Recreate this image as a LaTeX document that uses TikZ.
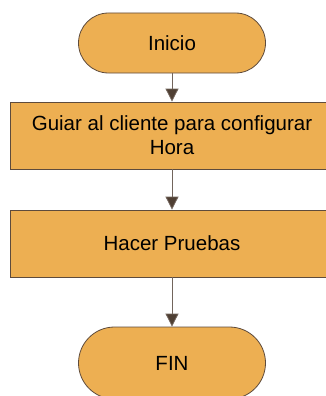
\documentclass[tikz,border=0pt]{standalone}
\usepackage{fontspec}
\setmainfont{Liberation Sans}
\usetikzlibrary{arrows.meta}
\definecolor{boxfill}{HTML}{EDAF52}
\definecolor{boxline}{HTML}{5E4B3C}
\definecolor{arrowcol}{HTML}{4F3F33}
\begin{document}
\begin{tikzpicture}[x=1pt,y=1pt,
  term/.style={draw=boxline, fill=boxfill, line width=0.8pt, rounded corners=30pt,
    minimum width=187pt, minimum height=60pt, inner sep=0pt, font=\fontsize{20.5}{24}\selectfont},
  proc/.style={draw=boxline, fill=boxfill, line width=0.8pt,
    minimum width=324pt, minimum height=67pt, inner sep=0pt, align=center,
    font=\fontsize{20.5}{24}\selectfont},
  flow/.style={draw=arrowcol!80, line width=0.8pt, -{Triangle[length=13pt,width=13pt,fill=arrowcol]}}
]
\useasboundingbox (0,0) rectangle (326,-396);
\clip (0,0) rectangle (326,-396);
\node[term] (start) at (172,-43) {Inicio};
\node[proc] (guide) at (172,-135.5) {Guiar al cliente para configurar\\Hora};
\node[proc] (test) at (172,-243.5) {Hacer Pruebas};
\node[term, minimum height=72pt, rounded corners=36pt] (end) at (172,-363) {FIN};
\draw[flow] (start) -- (guide);
\draw[flow] (guide) -- (test);
\draw[flow] (test) -- (end);
\end{tikzpicture}
\end{document}
